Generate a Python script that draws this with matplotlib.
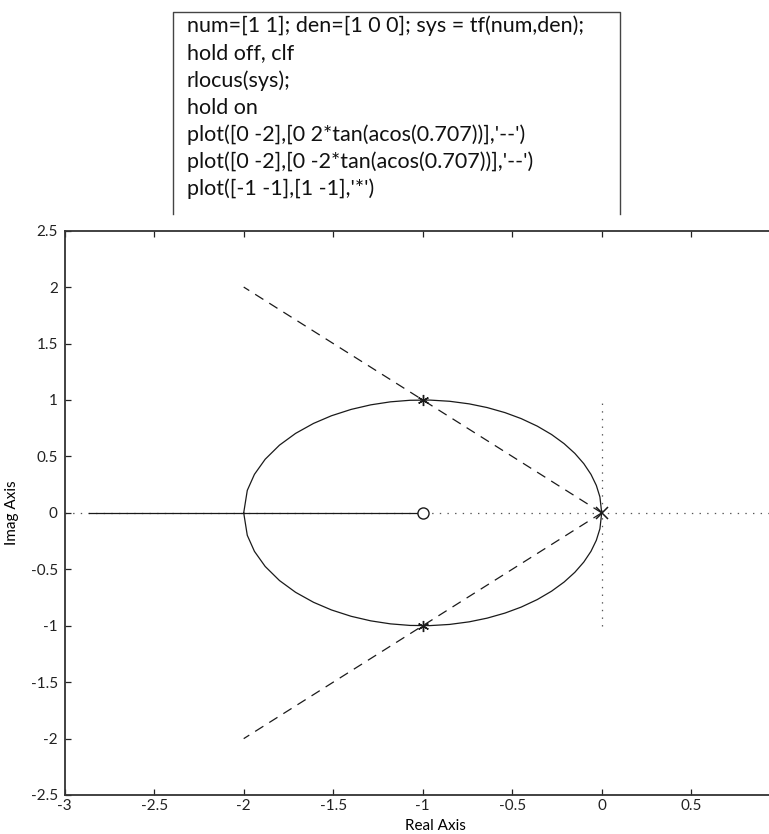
import numpy as np
import matplotlib
matplotlib.use("Agg")
import matplotlib.pyplot as plt
from matplotlib.lines import Line2D

plt.rcParams['font.family'] = ['Lato', 'DejaVu Sans']
plt.rcParams['lines.scale_dashes'] = False

# ---- data ----
num = [1, 1]
den = [1, 0, 0]
gains = [0.0, 0.02, 0.06, 0.12, 0.2, 0.3, 0.42, 0.56, 0.72, 0.9, 1.08, 1.28,
         1.48, 1.7, 1.92, 2.14, 2.36, 2.58, 2.8, 3.02, 3.22, 3.42, 3.6,
         3.76, 3.88, 3.96, 4.0]
left_gains = [4.0, 4.1, 4.25, 4.4]
zero_loc = [-1.0]
pole_loc = [0.0]
zeta = 0.707
line_x = [0, -2]
star_x = [-1, -1]
star_y = [1, -1]
xticks = [-3, -2.5, -2, -1.5, -1, -0.5, 0, 0.5]
xticklabels = ['-3', '-2.5', '-2', '-1.5', '-1', '-0.5', '0', '0.5']
yticks = [-2.5, -2, -1.5, -1, -0.5, 0, 0.5, 1, 1.5, 2, 2.5]
yticklabels = ['-2.5', '-2', '-1.5', '-1', '-0.5', '0', '0.5', '1', '1.5', '2', '2.5']
code_lines = [
    "num=[1 1]; den=[1 0 0]; sys = tf(num,den);",
    "hold off, clf",
    "rlocus(sys);",
    "hold on",
    "plot([0 -2],[0 2*tan(acos(0.707))],'--')",
    "plot([0 -2],[0 -2*tan(acos(0.707))],'--')",
    "plot([-1 -1],[1 -1],'*')",
]

W, H = 769, 834
top_px, bot_px, left_px = 230.7, 795.0, 64.7
fig = plt.figure(figsize=(W / 100, H / 100), dpi=100)
ax = fig.add_axes([left_px / W, 1 - bot_px / H, 1 - left_px / W, (bot_px - top_px) / H])

def closed_loop_roots(k):
    p = np.polyadd(den, k * np.array(num, dtype=float))
    return np.roots(p)

upper, lower = [], []
for k in gains:
    r = sorted(closed_loop_roots(k), key=lambda z: z.imag)
    lower.append(r[0]); upper.append(r[-1])
upper = np.array(upper); lower = np.array(lower)

lc = '#1a1a1a'
# axis dotted lines
ax.plot([-3, 1], [0, 0], color='#555555', lw=0.9, ls=(0, (1, 4.5)), zorder=1)
ax.plot([0, 0], [-1, 1], color='#555555', lw=0.9, ls=(0, (1, 4.5)), zorder=1)

ax.plot(upper.real, upper.imag, color=lc, lw=0.9)
ax.plot(lower.real, lower.imag, color=lc, lw=0.9)
# real-axis branches
lr = [min(closed_loop_roots(k).real) for k in left_gains]
ax.plot(lr, np.zeros(len(lr)), color=lc, lw=0.9)
ax.plot([lr[0], zero_loc[0]], [0, 0], color=lc, lw=0.9)

ax.plot(zero_loc, [0], 'o', mfc='white', mec=lc, ms=8, mew=1.0, zorder=5)
ax.plot(pole_loc, [0], 'x', color=lc, ms=9, mew=1.1, zorder=5)

yd = 2 * np.tan(np.arccos(zeta))
ax.plot(line_x, [0, yd], color=lc, lw=0.9, ls=(0, (7, 5)))
ax.plot(line_x, [0, -yd], color=lc, lw=0.9, ls=(0, (7, 5)))
ax.plot(star_x, star_y, linestyle='none', marker=(6, 2, 0), color=lc, ms=8, mew=1.0, zorder=6)

ax.set_xlim(-3, -3 + (W - left_px) / 179.0)
ax.set_ylim(-2.5, 2.5)
ax.set_xticks(xticks)
ax.set_xticklabels(xticklabels)
ax.set_yticks(yticks)
ax.set_yticklabels(yticklabels)
ax.tick_params(direction='in', length=4, width=0.9, labelsize=11, colors='#222222',
               top=True, right=False)
ax.tick_params(axis='x', pad=3)
ax.tick_params(axis='y', pad=5)
for s in ['left', 'bottom', 'top']:
    ax.spines[s].set_linewidth(1.3)
    ax.spines[s].set_color('#333333')
ax.spines['right'].set_visible(False)

fig.text(435 / W, 1 - 826 / H, 'Real Axis', ha='center', va='center', fontsize=11)
fig.text(12 / W, 1 - 513 / H, 'Imag Axis', ha='center', va='center', rotation=90, fontsize=11)

# code box (top, left, right borders)
x0, x1, y0, y1 = 173 / W, 620 / W, 1 - 214 / H, 1 - 12 / H
fig.add_artist(Line2D([x0, x0, x1, x1], [y0, y1, y1, y0], transform=fig.transFigure,
                      color='#444444', lw=1.0))
for i, t in enumerate(code_lines):
    fig.text(187 / W, 1 - (26 + i * 27.2) / H, t, ha='left', va='center', fontsize=15.5,
             color='#111111')

fig.savefig('out.png', dpi=100)
